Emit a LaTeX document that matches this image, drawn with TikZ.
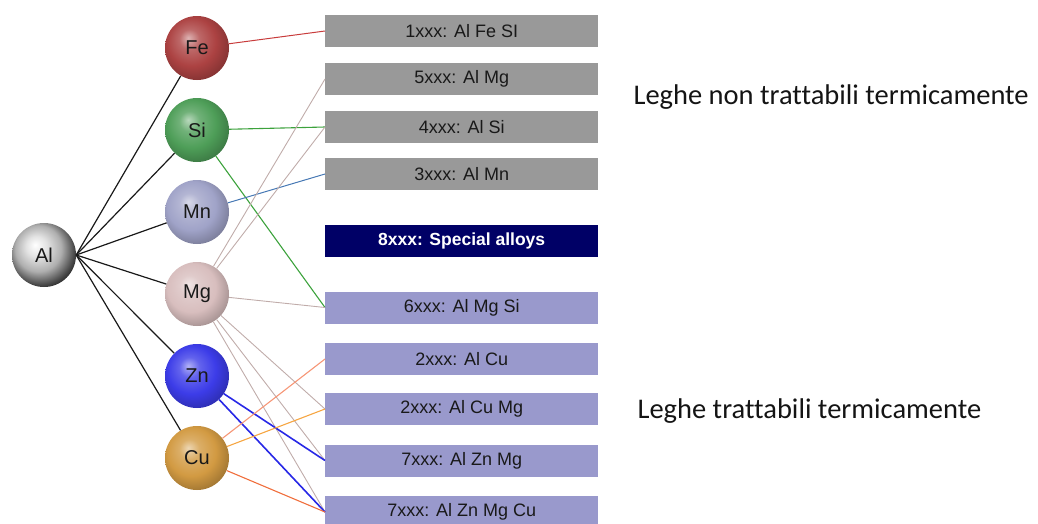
\documentclass[tikz,border=0pt]{standalone}
\usepackage{fontspec}
\setmainfont{Liberation Sans}
\newfontfamily\calibri[Ligatures=CommonOff]{Carlito}
\usetikzlibrary{calc}

\definecolor{alcol}{RGB}{175,175,175}
\definecolor{fecol}{RGB}{172,66,66}
\definecolor{sicol}{RGB}{78,158,88}
\definecolor{mncol}{RGB}{160,163,200}
\definecolor{mgcol}{RGB}{216,190,190}
\definecolor{zncol}{RGB}{60,60,232}
\definecolor{cucol}{RGB}{210,154,66}
\definecolor{boxgray}{RGB}{153,153,153}
\definecolor{boxlav}{RGB}{153,153,204}
\definecolor{boxnavy}{RGB}{0,0,102}

\newcommand\ballshade[2]{\pgfdeclareradialshading{#1}{\pgfpoint{-7bp}{8bp}}{%
  color(0bp)=(#2!40!white); color(8bp)=(#2!80!white); color(19bp)=(#2);
  color(29bp)=(#2!78!black); color(37bp)=(#2!58!black); color(50bp)=(#2!58!black)}}
\ballshade{feball}{fecol}
\ballshade{siball}{sicol}
\ballshade{mnball}{mncol}
\ballshade{mgball}{mgcol}
\ballshade{znball}{zncol}
\ballshade{cuball}{cucol}
\pgfdeclareradialshading{alball}{\pgfpoint{-7bp}{8bp}}{%
  color(0bp)=(white); color(8bp)=(alcol!35!white); color(18bp)=(alcol);
  color(27bp)=(alcol!40!black); color(34bp)=(black); color(50bp)=(black)}

\tikzset{
  ball/.style={circle, minimum size=64pt, inner sep=0pt, text=black!90,
    font=\fontsize{20}{22}\selectfont},
  alloy/.style={minimum width=273pt, minimum height=32pt, inner sep=0pt,
    anchor=west, text=black!90, font=\fontsize{18}{20}\selectfont},
  nontreat/.style={alloy, fill=boxgray},
  treat/.style={alloy, fill=boxlav},
  special/.style={alloy, fill=boxnavy, text=white, font=\fontsize{17.5}{20}\selectfont\bfseries},
  alline/.style={line width=1.2pt, black!90},
  mgline/.style={line width=0.9pt, color={rgb,255:red,192;green,172;blue,170}},
  znline/.style={line width=1.6pt, color={rgb,255:red,40;green,40;blue,230}},
  legend/.style={anchor=west, text=black!92, font=\calibri\fontsize{28.5}{30}\selectfont}
}

\begin{document}
\begin{tikzpicture}[x=1pt, y=-1pt]
\useasboundingbox (0,0) rectangle (1038,523);

\node[ball, shading=alball] (Al) at (44,255) {Al};
\node[ball, shading=feball] (Fe) at (197,48) {Fe};
\node[ball, shading=siball] (Si) at (197,130) {Si};
\node[ball, shading=mnball] (Mn) at (197,212) {Mn};
\node[ball, shading=mgball] (Mg) at (197,294) {Mg};
\node[ball, shading=znball] (Zn) at (197,376) {Zn};
\node[ball, shading=cuball] (Cu) at (197,458) {Cu};

\node[nontreat] (x1) at (325,31) {1xxx: Al Fe SI};
\node[nontreat] (x5) at (325,79) {5xxx: Al Mg};
\node[nontreat] (x4) at (325,127) {4xxx: Al Si};
\node[nontreat] (x3) at (325,174) {3xxx: Al Mn};
\node[special] (x8) at (325,241) {8xxx: Special alloys};
\node[treat] (x6) at (325,307.5) {6xxx: Al Mg Si};
\node[treat] (x2) at (325,359) {2xxx: Al Cu};
\node[treat] (x2b) at (325,409) {2xxx: Al Cu Mg};
\node[treat] (x7) at (325,460.5) {7xxx: Al Zn Mg};
\node[treat] (x7b) at (325,512) {7xxx: Al Zn Mg Cu};

\node[legend] (lnt) at (630,97) {Leghe non trattabili termicamente};
\node[legend] (lt) at (634,411) {Leghe trattabili termicamente};

\foreach \s in {Fe,Si,Mn,Mg,Zn,Cu}
  \draw[alline] (Al.east) -- (\s);

\draw[line width=1pt, color={rgb,255:red,200;green,60;blue,60}] (Fe) -- (x1.west);
\draw[line width=1.1pt, color={rgb,255:red,60;green,162;blue,60}] (Si) -- (x4.west);
\draw[line width=1.1pt, color={rgb,255:red,60;green,162;blue,60}] (Si) -- (x6.west);
\draw[line width=1pt, color={rgb,255:red,70;green,120;blue,180}] (Mn) -- (x3.west);
\foreach \b in {x5,x4,x6,x2b,x7,x7b}
  \draw[mgline] (Mg) -- (\b.west);
\foreach \b in {x7,x7b}
  \draw[znline] (Zn) -- (\b.west);
\draw[line width=1.1pt, color={rgb,255:red,246;green,150;blue,118}] (Cu) -- (x2.west);
\draw[line width=1.1pt, color={rgb,255:red,246;green,166;blue,66}] (Cu) -- (x2b.west);
\draw[line width=1.1pt, color={rgb,255:red,240;green,110;blue,60}] (Cu) -- (x7b.west);
\end{tikzpicture}
\end{document}
